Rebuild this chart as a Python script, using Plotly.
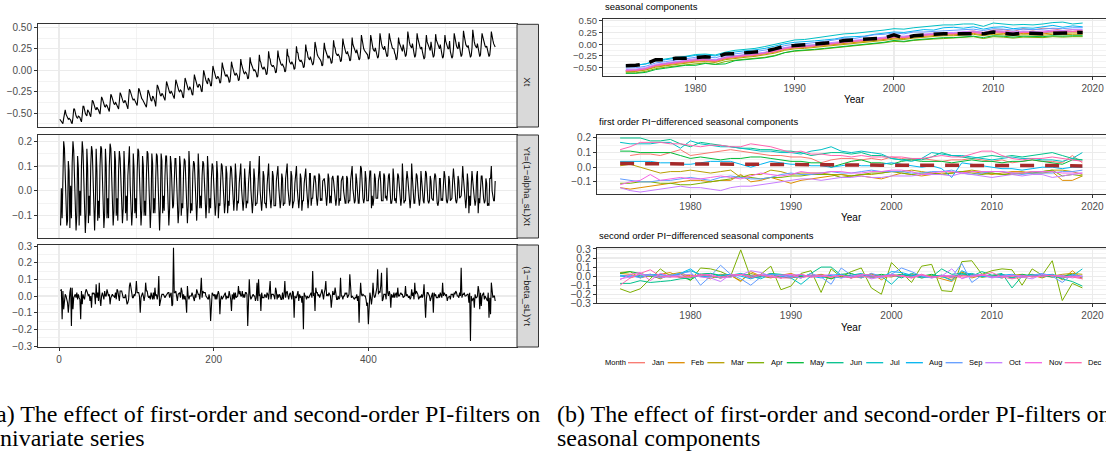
import plotly.graph_objects as go

# ---------------- data ----------------
MONTHS = ["Jan", "Feb", "Mar", "Apr", "May", "Jun", "Jul", "Aug", "Sep", "Oct", "Nov", "Dec"]
COLORS = ["#F8766D", "#DE8C00", "#B79F00", "#7CAE00", "#00BA38", "#00C08B",
          "#00BFC4", "#00B4F0", "#619CFF", "#C77CFF", "#F564E3", "#FF64B0"]
YEARS = list(range(1973, 2020))

# seasonal components X (one list per month, 1973..2019)
X_JAN = [-0.57,-0.56,-0.53,-0.46,-0.43,-0.40,-0.37,-0.35,-0.33,-0.36,-0.30,-0.27,-0.24,-0.23,-0.19,-0.16,-0.09,-0.07,-0.05,-0.03,-0.02,0.01,0.04,0.06,0.07,0.10,0.12,0.16,0.14,0.17,0.19,0.22,0.24,0.21,0.26,0.28,0.25,0.30,0.31,0.27,0.33,0.30,0.34,0.33,0.29,0.31,0.28]
X_FEB = [-0.58,-0.57,-0.54,-0.47,-0.45,-0.41,-0.39,-0.36,-0.35,-0.37,-0.31,-0.28,-0.26,-0.24,-0.21,-0.17,-0.11,-0.08,-0.07,-0.05,-0.03,-0.01,0.02,0.04,0.05,0.08,0.10,0.13,0.12,0.15,0.17,0.18,0.20,0.20,0.22,0.23,0.20,0.24,0.23,0.21,0.23,0.22,0.22,0.24,0.23,0.24,0.24]
X_MAR = [-0.59,-0.58,-0.55,-0.49,-0.46,-0.43,-0.41,-0.38,-0.37,-0.39,-0.33,-0.30,-0.28,-0.26,-0.23,-0.19,-0.13,-0.10,-0.09,-0.07,-0.05,-0.03,0.00,0.02,0.03,0.06,0.08,0.11,0.10,0.13,0.15,0.16,0.18,0.18,0.20,0.21,0.18,0.21,0.20,0.18,0.20,0.19,0.19,0.21,0.20,0.21,0.21]
X_APR = [-0.61,-0.61,-0.58,-0.52,-0.49,-0.46,-0.44,-0.42,-0.40,-0.43,-0.37,-0.34,-0.32,-0.31,-0.28,-0.24,-0.18,-0.15,-0.14,-0.12,-0.10,-0.08,-0.05,-0.03,-0.02,0.01,0.03,0.06,0.05,0.08,0.10,0.11,0.12,0.13,0.14,0.16,0.12,0.16,0.15,0.13,0.15,0.14,0.14,0.16,0.15,0.16,0.16]
X_MAY = [-0.62,-0.62,-0.60,-0.54,-0.51,-0.48,-0.45,-0.45,-0.41,-0.43,-0.42,-0.35,-0.33,-0.32,-0.29,-0.25,-0.18,-0.14,-0.13,-0.11,-0.09,-0.07,-0.04,-0.02,-0.01,0.02,0.04,0.08,0.06,0.09,0.11,0.12,0.14,0.14,0.16,0.17,0.14,0.18,0.17,0.15,0.17,0.16,0.16,0.18,0.17,0.18,0.18]
X_JUN = [-0.56,-0.55,-0.52,-0.45,-0.41,-0.38,-0.36,-0.33,-0.32,-0.34,-0.28,-0.25,-0.23,-0.21,-0.18,-0.13,-0.08,-0.05,-0.04,-0.02,0.00,0.02,0.05,0.07,0.08,0.11,0.13,0.16,0.15,0.18,0.20,0.21,0.23,0.23,0.25,0.26,0.23,0.27,0.26,0.24,0.26,0.25,0.25,0.27,0.26,0.27,0.27]
X_JUL = [-0.47,-0.45,-0.42,-0.35,-0.31,-0.28,-0.26,-0.22,-0.21,-0.23,-0.17,-0.13,-0.11,-0.09,-0.05,0.00,0.05,0.09,0.10,0.13,0.15,0.18,0.22,0.23,0.25,0.28,0.30,0.33,0.32,0.35,0.37,0.38,0.41,0.41,0.43,0.43,0.38,0.45,0.43,0.41,0.42,0.41,0.43,0.46,0.47,0.43,0.45]
X_AUG = [-0.46,-0.45,-0.42,-0.36,-0.33,-0.30,-0.28,-0.24,-0.23,-0.25,-0.19,-0.16,-0.14,-0.12,-0.09,-0.04,0.01,0.04,0.05,0.07,0.09,0.11,0.15,0.16,0.17,0.21,0.23,0.26,0.25,0.28,0.31,0.30,0.35,0.36,0.34,0.37,0.32,0.36,0.37,0.33,0.35,0.34,0.37,0.40,0.36,0.39,0.37]
X_SEP = [-0.51,-0.50,-0.47,-0.40,-0.37,-0.34,-0.32,-0.28,-0.27,-0.29,-0.23,-0.20,-0.18,-0.16,-0.13,-0.09,-0.03,0.00,0.01,0.03,0.06,0.09,0.13,0.12,0.16,0.20,0.21,0.24,0.22,0.26,0.26,0.27,0.29,0.29,0.31,0.32,0.29,0.33,0.32,0.30,0.32,0.31,0.32,0.34,0.33,0.35,0.35]
X_OCT = [-0.54,-0.53,-0.50,-0.43,-0.40,-0.37,-0.35,-0.31,-0.31,-0.33,-0.27,-0.24,-0.22,-0.20,-0.17,-0.12,-0.07,-0.04,-0.03,-0.01,0.02,0.04,0.07,0.09,0.10,0.13,0.15,0.18,0.17,0.20,0.22,0.23,0.25,0.25,0.27,0.28,0.25,0.29,0.28,0.26,0.28,0.27,0.28,0.30,0.29,0.31,0.31]
X_NOV = [-0.56,-0.55,-0.52,-0.45,-0.42,-0.39,-0.37,-0.33,-0.33,-0.35,-0.29,-0.26,-0.24,-0.22,-0.19,-0.14,-0.09,-0.06,-0.05,-0.03,0.00,0.02,0.05,0.07,0.08,0.11,0.13,0.16,0.15,0.18,0.20,0.21,0.23,0.23,0.25,0.26,0.23,0.27,0.26,0.24,0.26,0.25,0.26,0.28,0.27,0.28,0.28]
X_DEC = [-0.57,-0.56,-0.53,-0.46,-0.43,-0.40,-0.38,-0.35,-0.34,-0.36,-0.30,-0.27,-0.25,-0.23,-0.20,-0.16,-0.10,-0.07,-0.06,-0.04,-0.01,0.01,0.04,0.06,0.07,0.10,0.12,0.15,0.14,0.17,0.19,0.20,0.22,0.22,0.24,0.25,0.22,0.26,0.25,0.23,0.25,0.25,0.25,0.27,0.26,0.27,0.27]
X_DASH = [-0.46,-0.45,-0.42,-0.33,-0.33,-0.30,-0.30,-0.28,-0.27,-0.28,-0.21,-0.20,-0.18,-0.17,-0.15,-0.10,-0.04,-0.03,-0.01,0.01,0.02,0.04,0.08,0.09,0.10,0.12,0.13,0.20,0.13,0.18,0.20,0.21,0.22,0.22,0.23,0.23,0.22,0.26,0.24,0.21,0.24,0.23,0.22,0.23,0.24,0.25,0.25]

# first order PI-differenced seasonal components Y
Y_JAN = [None,0.08,0.09,0.09,0.08,0.10,0.12,0.08,0.09,0.10,0.11,0.12,0.11,0.10,0.09,0.08,0.08,0.07,0.07,0.06,0.03,0.05,0.06,0.06,0.05,0.06,0.05,0.07,0.06,0.05,0.06,0.05,0.04,0.05,0.05,0.06,0.05,0.04,0.05,0.03,0.04,0.05,0.04,0.04,0.03,0.08,0.03]
Y_FEB = [-0.14,-0.15,-0.14,-0.13,-0.12,-0.11,-0.10,-0.09,-0.09,-0.10,-0.09,-0.09,-0.05,-0.10,-0.09,-0.07,-0.09,-0.11,-0.09,-0.08,-0.07,-0.06,-0.05,-0.06,-0.06,-0.07,-0.08,-0.06,-0.04,-0.05,-0.06,-0.05,-0.04,-0.04,-0.03,-0.03,-0.04,-0.05,-0.04,-0.03,-0.03,-0.04,-0.04,-0.03,-0.09,-0.09,-0.06]
Y_MAR = [0.01,0.02,0.00,-0.02,-0.04,-0.03,-0.03,-0.02,-0.03,-0.04,-0.03,-0.02,-0.07,-0.05,-0.05,-0.02,-0.03,-0.05,-0.04,-0.04,-0.04,-0.05,-0.05,-0.06,-0.05,-0.05,-0.04,-0.03,-0.03,-0.02,-0.03,-0.04,-0.05,-0.04,-0.03,-0.02,-0.03,-0.04,-0.05,-0.04,-0.04,-0.03,-0.03,-0.02,-0.02,-0.03,-0.05]
Y_APR = [-0.11,-0.11,-0.10,-0.10,-0.11,-0.11,-0.12,-0.12,-0.11,-0.10,-0.09,-0.08,-0.06,-0.07,-0.08,-0.07,-0.07,-0.06,-0.06,-0.05,-0.05,-0.05,-0.07,-0.06,-0.05,-0.04,-0.04,-0.03,-0.04,-0.05,-0.04,-0.04,-0.05,-0.04,-0.03,-0.04,-0.05,-0.04,-0.05,-0.05,-0.04,-0.04,-0.03,-0.02,-0.06,-0.05,-0.06]
Y_MAY = [0.11,0.11,0.10,0.10,0.10,0.10,0.08,0.06,0.07,0.06,0.05,0.06,0.06,0.07,0.07,0.06,0.05,0.04,0.04,0.03,0.03,0.00,0.02,0.04,0.05,0.03,0.03,0.02,0.04,0.05,0.04,0.04,0.04,0.03,0.04,0.05,0.04,0.04,0.03,0.04,0.04,0.05,0.04,0.03,0.02,0.05,0.05]
Y_JUN = [0.20,0.20,0.20,0.18,0.18,0.19,0.16,0.14,0.17,0.16,0.15,0.14,0.13,0.13,0.12,0.12,0.11,0.11,0.10,0.08,0.09,0.10,0.10,0.09,0.10,0.08,0.08,0.06,0.05,0.06,0.05,0.07,0.10,0.08,0.07,0.06,0.07,0.08,0.07,0.08,0.07,0.08,0.09,0.10,0.08,0.06,0.05]
Y_JUL = [0.17,0.16,0.16,0.16,0.17,0.17,0.13,0.18,0.16,0.15,0.14,0.14,0.13,0.12,0.11,0.11,0.10,0.10,0.09,0.11,0.12,0.14,0.11,0.10,0.11,0.10,0.09,0.06,0.05,0.04,0.06,0.10,0.09,0.08,0.08,0.07,0.06,0.05,0.06,0.07,0.06,0.06,0.05,0.05,0.04,0.06,0.10]
Y_AUG = [0.04,0.04,0.04,0.04,0.03,0.03,0.02,0.02,0.03,0.04,0.04,0.04,0.02,0.00,0.02,0.04,0.03,0.02,0.02,0.01,0.01,0.00,0.01,0.02,0.01,0.01,0.02,0.03,0.02,0.01,0.00,0.01,-0.01,-0.07,0.03,0.02,0.01,0.00,-0.01,-0.01,-0.02,-0.01,0.00,0.00,-0.01,0.00,0.00]
Y_SEP = [-0.08,-0.09,-0.10,-0.10,-0.09,-0.09,-0.08,-0.07,-0.08,-0.09,-0.07,-0.06,-0.07,-0.08,-0.08,-0.07,-0.05,-0.04,-0.05,-0.05,-0.04,-0.03,-0.04,-0.04,-0.03,-0.02,-0.03,-0.03,-0.03,-0.04,-0.04,-0.03,-0.03,-0.02,-0.04,-0.05,-0.04,-0.03,-0.03,-0.04,-0.05,-0.04,-0.04,-0.04,-0.03,-0.03,-0.02]
Y_OCT = [-0.14,-0.16,-0.17,-0.16,-0.15,-0.14,-0.13,-0.14,-0.14,-0.15,-0.16,-0.14,-0.13,-0.13,-0.12,-0.11,-0.10,-0.09,-0.08,-0.08,-0.09,-0.08,-0.07,-0.07,-0.06,-0.07,-0.07,-0.06,-0.06,-0.06,-0.05,-0.05,-0.05,-0.06,-0.04,-0.05,-0.06,-0.07,-0.06,-0.05,-0.06,-0.05,-0.05,-0.07,-0.06,-0.05,-0.04]
Y_NOV = [-0.12,-0.10,-0.09,-0.05,-0.09,-0.08,-0.07,-0.08,-0.08,-0.07,-0.06,-0.07,-0.08,-0.06,-0.04,-0.05,-0.06,-0.05,-0.03,-0.04,-0.04,-0.03,-0.03,-0.04,-0.04,-0.03,-0.03,-0.02,-0.02,-0.03,-0.05,-0.04,-0.03,-0.03,-0.04,-0.03,-0.03,-0.03,-0.03,-0.04,-0.04,-0.03,-0.03,-0.03,-0.04,-0.04,-0.04]
Y_DEC = [0.12,0.14,0.17,0.17,0.17,0.16,0.16,0.15,0.14,0.15,0.15,0.14,0.14,0.16,0.15,0.14,0.12,0.10,0.11,0.09,0.09,0.08,0.08,0.07,0.08,0.07,0.07,0.07,0.07,0.06,0.06,0.07,0.08,0.07,0.07,0.09,0.11,0.11,0.08,0.06,0.05,0.06,0.06,0.07,0.06,0.05,0.04]
Y_DASH = [0.025,0.025,0.025,0.024,0.024,0.023,0.023,0.022,0.022,0.022,0.021,0.021,0.020,0.020,0.020,0.019,0.019,0.018,0.017,0.017,0.016,0.016,0.015,0.015,0.015,0.014,0.014,0.013,0.013,0.013,0.013,0.014,0.014,0.014,0.015,0.015,0.016,0.017,0.016,0.015,0.014,0.013,0.012,0.011,0.010,0.009,0.008]

# second order PI-differenced seasonal components Z
Z_JAN = [None,-0.02,0.01,0.02,-0.01,0.00,0.02,-0.01,0.01,0.00,-0.02,0.01,0.02,-0.01,0.00,0.01,-0.02,0.01,0.00,-0.01,0.02,0.00,-0.01,0.01,0.02,-0.02,0.00,0.01,-0.01,0.02,0.00,-0.01,0.01,-0.02,0.00,0.01,0.02,-0.01,0.00,0.01,-0.01,0.02,0.00,-0.01,0.01,0.00,-0.02]
Z_FEB = [0.03,0.02,-0.01,0.00,0.02,0.04,-0.02,0.01,0.00,-0.03,0.02,0.01,-0.06,0.05,0.00,-0.02,0.01,0.03,-0.01,0.00,0.02,-0.03,0.01,0.00,-0.02,0.03,-0.04,0.02,0.00,0.01,-0.02,0.00,-0.03,-0.06,0.04,0.01,-0.01,0.00,0.02,-0.01,0.00,0.01,-0.02,0.02,-0.04,0.06,-0.03]
Z_MAR = [0.04,0.05,-0.02,0.01,-0.03,0.02,0.04,-0.01,0.02,0.00,-0.02,0.01,-0.05,0.03,0.00,0.03,-0.02,0.01,-0.01,0.00,0.01,-0.01,0.00,-0.02,0.01,0.02,0.00,-0.01,0.02,0.00,-0.01,0.01,0.00,-0.04,0.05,-0.02,0.01,0.00,-0.02,0.01,0.02,-0.01,0.01,0.00,0.02,0.03,0.02]
Z_APR = [-0.14,-0.18,-0.14,-0.03,0.08,0.00,0.03,-0.05,0.09,0.08,0.05,0.00,0.29,-0.02,0.02,0.11,-0.15,-0.11,0.03,0.06,-0.18,0.08,-0.01,0.05,0.09,-0.13,-0.20,0.15,0.04,-0.07,0.11,0.13,-0.16,-0.17,0.16,0.17,0.02,0.06,0.08,0.07,-0.10,0.08,0.01,0.17,-0.27,-0.08,-0.13]
Z_MAY = [0.03,0.05,0.03,0.00,-0.02,0.01,-0.01,-0.04,0.02,0.03,0.00,-0.01,0.02,0.01,0.00,-0.01,-0.01,-0.02,0.00,0.01,0.00,-0.03,0.02,0.03,-0.01,0.00,0.02,0.00,0.02,-0.01,0.00,0.02,-0.01,0.00,0.01,0.02,-0.01,0.00,0.01,-0.02,0.02,0.00,0.01,-0.01,0.00,0.02,-0.01]
Z_JUN = [-0.08,-0.08,-0.05,-0.07,-0.06,-0.05,-0.03,-0.02,0.02,0.03,0.01,0.00,0.02,-0.02,-0.01,0.03,0.02,0.00,-0.02,0.03,0.10,0.10,0.01,-0.02,0.02,-0.01,0.00,0.02,-0.02,0.03,0.00,-0.01,0.08,0.02,0.03,0.00,0.05,0.01,0.03,-0.13,0.00,0.02,-0.01,0.01,-0.03,-0.06,-0.11]
Z_JUL = [0.00,-0.01,0.01,0.02,0.00,-0.01,0.03,0.06,0.02,0.00,-0.02,0.01,0.03,0.00,-0.03,0.02,0.01,-0.02,-0.09,0.00,0.01,0.00,-0.02,0.01,0.03,-0.01,0.00,-0.09,0.02,0.01,-0.02,0.00,0.01,-0.01,0.02,0.03,0.00,-0.01,0.02,-0.02,0.01,0.00,0.02,0.01,-0.02,0.00,0.08]
Z_AUG = [0.01,0.00,-0.01,0.01,0.02,0.00,0.03,0.08,0.00,-0.01,0.01,0.02,0.00,-0.03,0.01,0.02,0.00,-0.01,0.01,0.00,-0.02,0.01,0.02,-0.01,0.00,0.01,-0.02,0.05,0.04,0.01,0.00,-0.01,0.00,-0.05,0.06,0.01,0.00,-0.01,0.01,0.02,-0.01,0.00,0.01,0.02,-0.01,0.01,0.00]
Z_SEP = [0.00,0.01,-0.02,0.02,0.00,0.01,0.03,0.05,-0.10,0.00,0.12,0.02,-0.03,-0.10,-0.01,0.02,0.01,0.00,-0.02,0.03,-0.01,-0.09,0.09,0.01,-0.02,0.03,0.00,0.02,0.09,0.05,0.00,-0.02,0.01,-0.01,0.14,-0.07,0.01,0.00,-0.02,0.02,-0.01,0.01,0.03,0.00,-0.07,0.02,-0.01]
Z_OCT = [-0.03,-0.01,0.02,0.01,-0.02,0.00,0.01,0.02,-0.01,-0.02,-0.06,0.02,0.01,0.06,0.04,0.00,-0.02,0.01,0.02,-0.01,0.00,0.02,-0.02,0.00,0.01,-0.03,-0.01,0.02,0.00,-0.01,0.02,-0.02,0.00,0.08,-0.03,0.01,0.02,-0.02,0.00,0.01,-0.01,-0.03,0.02,0.00,0.01,-0.02,0.00]
Z_NOV = [-0.04,0.02,0.04,-0.05,0.03,0.00,-0.01,-0.01,0.01,0.02,-0.02,-0.01,0.02,0.00,0.02,-0.01,0.01,0.02,-0.02,0.01,0.01,-0.01,0.01,-0.02,0.02,0.01,-0.01,0.00,0.01,-0.02,0.01,-0.01,0.00,0.01,-0.02,0.00,0.01,-0.01,0.00,0.00,0.01,-0.01,0.00,0.01,-0.01,0.00,0.00]
Z_DEC = [-0.10,-0.02,0.03,0.07,0.00,-0.01,-0.01,-0.01,0.02,0.00,-0.01,0.01,0.02,-0.02,0.01,-0.01,-0.02,-0.02,0.02,-0.01,0.00,-0.01,0.01,-0.02,0.00,-0.01,0.00,0.01,0.00,-0.02,0.02,-0.01,0.00,-0.01,0.01,-0.01,0.01,0.04,-0.01,-0.03,-0.01,0.00,0.00,0.01,-0.01,-0.01,-0.03]

X_ROWS = [X_JAN, X_FEB, X_MAR, X_APR, X_MAY, X_JUN, X_JUL, X_AUG, X_SEP, X_OCT, X_NOV, X_DEC]
Y_ROWS = [Y_JAN, Y_FEB, Y_MAR, Y_APR, Y_MAY, Y_JUN, Y_JUL, Y_AUG, Y_SEP, Y_OCT, Y_NOV, Y_DEC]
Z_ROWS = [Z_JAN, Z_FEB, Z_MAR, Z_APR, Z_MAY, Z_JUN, Z_JUL, Z_AUG, Z_SEP, Z_OCT, Z_NOV, Z_DEC]

STRIP_LABELS = ["Xt", "Yt=(1\u2212alpha_sL)Xt", "(1\u2212beta_sL)Yt"]
RIGHT_TITLES = ["seasonal components",
                "first order PI\u2212differenced seasonal components",
                "second order PI\u2212differenced seasonal components"]
CAPTION_A = ["(a) The effect of first-order and second-order PI-filters on", "univariate series"]
CAPTION_B = ["(b) The effect of first-order and second-order PI-filters on", "seasonal components"]

# univariate series = monthly values in time order
def flatten(rows):
    return [rows[m][y] for y in range(len(YEARS)) for m in range(12)]

T_INDEX = list(range(1, 12 * len(YEARS) + 1))
SERIES_LEFT = [flatten(X_ROWS), flatten(Y_ROWS), flatten(Z_ROWS)]

# ---------------- layout helpers ----------------
W, H = 1106, 454
FONT = "Liberation Sans, Arial, sans-serif"
SERIF = "Liberation Serif, Times New Roman, serif"
def fx(px): return px / W
def fy(py): return 1 - py / H

def axis(dom, rng, dtick, minor_dtick, showlabels=True, ticks="outside", fmt=None, fsize=10, anchor=None):
    d = dict(domain=dom, range=rng, dtick=dtick, tick0=0, showline=True, linecolor="#333333",
             linewidth=1, mirror=True, ticks=ticks if showlabels else "", ticklen=3,
             tickcolor="#333333", tickwidth=1, showgrid=True, gridcolor="#EBEBEB",
             gridwidth=1.1, zeroline=False, showticklabels=showlabels,
             tickfont=dict(family=FONT, size=fsize, color="#4D4D4D"),
             minor=dict(dtick=minor_dtick, tick0=0, showgrid=True, gridcolor="#EBEBEB",
                        gridwidth=0.6, ticks=""),
             fixedrange=True)
    if fmt:
        d["tickformat"] = fmt
    if anchor:
        d["anchor"] = anchor
    return d

fig = go.Figure()

# left panels (px rows)
LEFT_X = (38, 517)
LEFT_ROWS = [(24.3, 127.0), (135.0, 238.0), (245.0, 347.0)]
LEFT_YR = [[-0.66, 0.535], [-0.19, 0.225], [-0.306, 0.306]]
LEFT_YD = [(0.25, 0.125, ".2f"), (0.1, 0.05, ".1f"), (0.1, 0.05, ".1f")]

# right panels
RIGHT_X = [(603, 1105.5), (597, 1105.5), (597, 1105.5)]
RIGHT_ROWS = [(19.0, 76.0), (135.2, 194.1), (247.7, 303.3)]
RIGHT_YR = [[-0.677, 0.536], [-0.184, 0.219], [-0.300, 0.314]]
RIGHT_YD = [(0.25, 0.125, ".2f", 9.5), (0.1, 0.05, ".1f", 10), (0.1, 0.05, ".1f", 10.5)]

layout = {}
for i in range(3):
    n = i + 1
    xa = "xaxis" if n == 1 else f"xaxis{n}"
    ya = "yaxis" if n == 1 else f"yaxis{n}"
    layout[xa] = axis([fx(LEFT_X[0]), fx(LEFT_X[1])], [-27.2, 592.2], 200, 100,
                      showlabels=(i == 2), anchor=f"y{'' if n == 1 else n}")
    top, bot = LEFT_ROWS[i]
    dt, mdt, fmt = LEFT_YD[i]
    layout[ya] = axis([fy(bot), fy(top)], LEFT_YR[i], dt, mdt, fmt=fmt, fsize=10,
                      anchor=f"x{'' if n == 1 else n}")
    fig.add_trace(go.Scatter(x=T_INDEX, y=SERIES_LEFT[i], mode="lines",
                             line=dict(color="black", width=1.1),
                             xaxis=f"x{'' if n == 1 else n}", yaxis=f"y{'' if n == 1 else n}",
                             showlegend=False, hoverinfo="skip", connectgaps=False))

for i in range(3):
    n = i + 4
    top, bot = RIGHT_ROWS[i]
    dt, mdt, fmt, fs = RIGHT_YD[i]
    layout[f"xaxis{n}"] = axis([fx(RIGHT_X[i][0]), fx(RIGHT_X[i][1])], [1970.7, 2021.3], 10, 5,
                               anchor=f"y{n}")
    layout[f"yaxis{n}"] = axis([fy(bot), fy(top)], RIGHT_YR[i], dt, mdt, fmt=fmt, fsize=fs,
                               anchor=f"x{n}")
    rows = [X_ROWS, Y_ROWS, Z_ROWS][i]
    for m in range(12):
        fig.add_trace(go.Scatter(x=YEARS, y=rows[m], mode="lines", name=MONTHS[m],
                                 line=dict(color=COLORS[m], width=1.0),
                                 xaxis=f"x{n}", yaxis=f"y{n}", showlegend=False,
                                 hoverinfo="skip"))
    if i == 0:
        fig.add_trace(go.Scatter(x=YEARS, y=X_DASH, mode="lines",
                                 line=dict(color="black", width=3.5, dash="14px,10px"),
                                 xaxis=f"x{n}", yaxis=f"y{n}", showlegend=False, hoverinfo="skip"))
    if i == 1:
        fig.add_trace(go.Scatter(x=YEARS, y=Y_DASH, mode="lines",
                                 line=dict(color="#A52A2A", width=3.5, dash="14px,11px"),
                                 xaxis=f"x{n}", yaxis=f"y{n}", showlegend=False, hoverinfo="skip"))

shapes = []
annotations = []

# facet strips
for i in range(3):
    top, bot = LEFT_ROWS[i]
    shapes.append(dict(type="rect", xref="paper", yref="paper", x0=fx(517), x1=fx(538.5),
                       y0=fy(bot), y1=fy(top), fillcolor="#D9D9D9",
                       line=dict(color="#333333", width=1), layer="above"))
    annotations.append(dict(xref="paper", yref="paper", x=fx(527.8), y=fy((top + bot) / 2),
                            text=STRIP_LABELS[i], textangle=90, showarrow=False,
                            font=dict(family=FONT, size=9.5, color="#1A1A1A")))

# right panel titles and axis titles
TITLE_Y = [6.7, 121.7, 235.7]
YEAR_Y = [99.0, 218.0, 327.0]
for i in range(3):
    annotations.append(dict(xref="paper", yref="paper", x=fx(RIGHT_X[i][0]), y=fy(TITLE_Y[i]),
                            xanchor="left", yanchor="middle", text=RIGHT_TITLES[i],
                            showarrow=False, font=dict(family=FONT, size=9.5, color="black")))
    annotations.append(dict(xref="paper", yref="paper",
                            x=fx((RIGHT_X[i][0] + RIGHT_X[i][1]) / 2), y=fy(YEAR_Y[i]),
                            xanchor="center", yanchor="middle", text="Year",
                            showarrow=False, font=dict(family=FONT, size=10, color="black")))

# legend (drawn manually to match the compact ggplot legend)
LEG_Y = 362.7
annotations.append(dict(xref="paper", yref="paper", x=fx(603), y=fy(LEG_Y), xanchor="left",
                        yanchor="middle", text="Month", showarrow=False,
                        font=dict(family=FONT, size=7.5, color="black")))
for m in range(12):
    x0 = 628 + m * 39.7
    shapes.append(dict(type="line", xref="paper", yref="paper", x0=fx(x0), x1=fx(x0 + 17),
                       y0=fy(LEG_Y), y1=fy(LEG_Y), line=dict(color=COLORS[m], width=1.3)))
    annotations.append(dict(xref="paper", yref="paper", x=fx(x0 + 21.5), y=fy(LEG_Y),
                            xanchor="left", yanchor="middle", text=MONTHS[m], showarrow=False,
                            font=dict(family=FONT, size=7.5, color="black")))

# captions
CAP_Y = [414.0, 438.0]
for j in range(2):
    annotations.append(dict(xref="paper", yref="paper", x=fx(-14), y=fy(CAP_Y[j]),
                            xanchor="left", yanchor="middle", text=CAPTION_A[j], showarrow=False,
                            font=dict(family=SERIF, size=24, color="black")))
    annotations.append(dict(xref="paper", yref="paper", x=fx(555), y=fy(CAP_Y[j]),
                            xanchor="left", yanchor="middle", text=CAPTION_B[j], showarrow=False,
                            font=dict(family=SERIF, size=24, color="black")))

fig.update_layout(width=W, height=H, autosize=False, margin=dict(l=0, r=0, t=0, b=0),
                  paper_bgcolor="white", plot_bgcolor="white", template="none",
                  showlegend=False, shapes=shapes, annotations=annotations,
                  font=dict(family=FONT), **layout)

fig.write_html("out.html", config={"displayModeBar": False, "staticPlot": True},
               post_script="document.body.style.margin='0px';document.body.style.overflow='hidden';")
